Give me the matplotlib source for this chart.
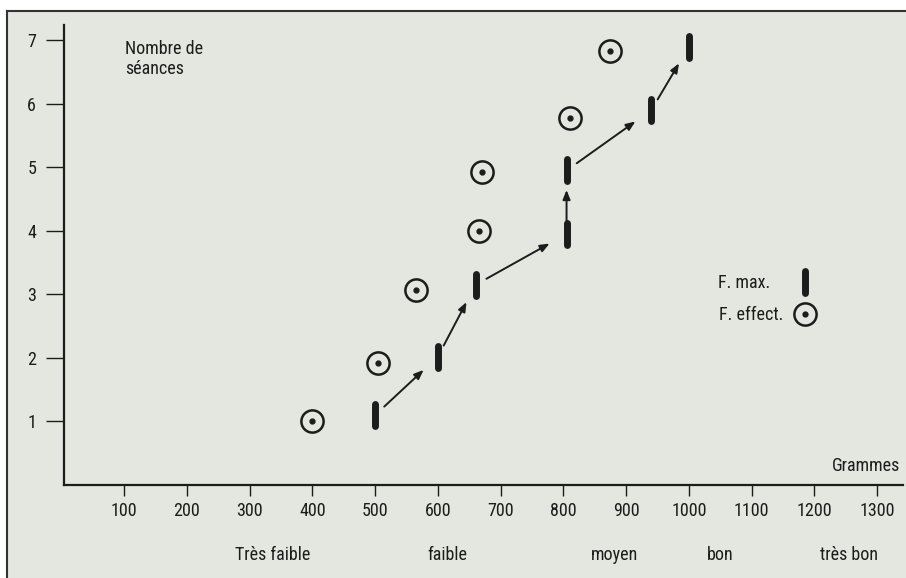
import matplotlib
matplotlib.use("Agg")
import matplotlib.pyplot as plt
from matplotlib.markers import MarkerStyle
from matplotlib.patches import Rectangle
from matplotlib.lines import Line2D

plt.rcParams['font.family'] = ['Roboto Condensed', 'DejaVu Sans Condensed',
                               'Liberation Sans Narrow', 'DejaVu Sans']
plt.rcParams['font.stretch'] = 'condensed'

# ---- data ----
fmax_grams = [500, 600, 660, 805, 805, 940, 1000]
fmax_sessions = [1.1, 2.02, 3.15, 3.95, 4.95, 5.9, 6.9]
feff_grams = [400, 505, 565, 665, 670, 810, 875]
feff_sessions = [1.0, 1.92, 3.07, 3.99, 4.93, 5.78, 6.83]

x_ticks = [100, 200, 300, 400, 500, 600, 700, 800, 900, 1000, 1100, 1200, 1300]
y_ticks = [1, 2, 3, 4, 5, 6, 7]
cat_labels = ["Très faible", "faible", "moyen", "bon", "très bon"]
cat_pos = [337, 615, 881, 1049, 1255]
legend_labels = ["F. max.   ", "F. effect."]

BG = "#e4e6e0"
INK = "#1c1c1c"
FS = 13

fig = plt.figure(figsize=(9.06, 5.78), dpi=100, facecolor="white")
# scanned page panel with top and left border
fig.patches.append(Rectangle((7/906, 0), 1 - 7/906, 1 - 11/578, transform=fig.transFigure,
                             facecolor=BG, edgecolor="none", zorder=-10))
fig.lines.append(Line2D([7/906, 1], [1 - 11/578, 1 - 11/578], transform=fig.transFigure,
                        color="#333333", lw=1.5, zorder=-5))
fig.lines.append(Line2D([7/906, 7/906], [0, 1 - 11/578], transform=fig.transFigure,
                        color="#333333", lw=1.5, zorder=-5))

ax = fig.add_axes([64/906, 1 - 485/578, (903 - 64)/906, (485 - 25)/578])
ax.set_facecolor("none")
ax.set_xlim(4.4, 1341)
ax.set_ylim(0, 7.24)
for s in ["top", "right"]:
    ax.spines[s].set_visible(False)
for s in ["left", "bottom"]:
    ax.spines[s].set_color(INK)
    ax.spines[s].set_linewidth(1.6)

ax.set_xticks(x_ticks)
ax.set_yticks(y_ticks)
ax.tick_params(axis="x", direction="out", length=8, width=1.0, pad=4, labelsize=FS, colors=INK)
ax.tick_params(axis="y", direction="out", length=13, width=1.0, pad=7, labelsize=FS, colors=INK)

# F. max. bars
bar_marker = MarkerStyle("|", capstyle="round")
bars, = ax.plot(fmax_grams, fmax_sessions, linestyle="none", marker=bar_marker, markersize=16,
                markeredgewidth=5, color=INK, zorder=3)

# F. effect. circles with center dot
rings, = ax.plot(feff_grams, feff_sessions, linestyle="none", marker="o", markersize=16,
                 markerfacecolor="none", markeredgewidth=1.8, markeredgecolor=INK, zorder=3)
dots, = ax.plot(feff_grams, feff_sessions, linestyle="none", marker="o", markersize=3.5,
                color=INK, zorder=3)

# arrows between consecutive maxima
for i in range(len(fmax_grams) - 1):
    ax.annotate("", xy=(fmax_grams[i + 1], fmax_sessions[i + 1]),
                xytext=(fmax_grams[i], fmax_sessions[i]),
                arrowprops=dict(arrowstyle="-|>,head_length=0.55,head_width=0.22",
                                color=INK, lw=1.4, shrinkA=9, shrinkB=14), zorder=2)

leg = ax.legend([bars, (rings, dots)], legend_labels, markerfirst=False,
                frameon=False, loc="center left", bbox_to_anchor=(0.78, 0.404),
                fontsize=FS, handlelength=1.0, handletextpad=0.7, labelspacing=0.75,
                borderpad=0, borderaxespad=0)
for t in leg.get_texts():
    t.set_color(INK)

ax.text(0.0727, 0.967, "Nombre de\nséances", transform=ax.transAxes, ha="left", va="top",
        fontsize=FS, color=INK, linespacing=1.1)
ax.text(0.996, 0.041, "Grammes", transform=ax.transAxes, ha="right", va="center",
        fontsize=FS, color=INK)

sec = ax.secondary_xaxis(-0.132)
sec.set_xticks(cat_pos, cat_labels)
sec.tick_params(length=0, pad=0, labelsize=FS, colors=INK)
sec.spines["bottom"].set_visible(False)

fig.savefig("out.png", dpi=100, facecolor="white")
